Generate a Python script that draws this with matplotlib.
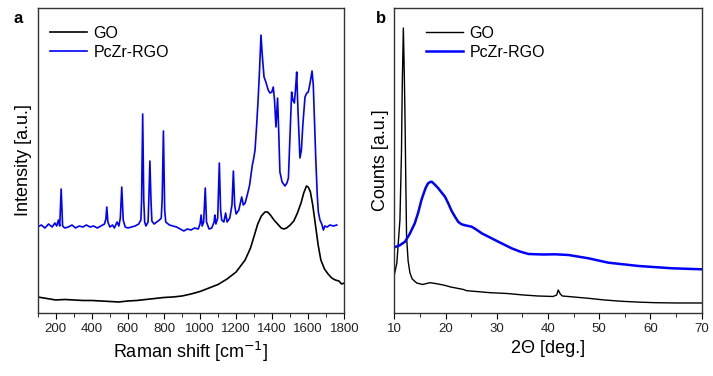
import matplotlib
matplotlib.use("Agg")
import matplotlib.pyplot as plt
from matplotlib.ticker import MultipleLocator

plt.rcParams['font.family'] = ['Liberation Sans', 'DejaVu Sans']

# Raman spectra (panel a), intensity in arbitrary units
raman_go_x = [100, 150, 200, 250, 300, 350, 400, 450, 500, 550, 600, 650, 700, 750, 800, 850,
              900, 950, 1000, 1050, 1100, 1150, 1200, 1250, 1280, 1300, 1320, 1340, 1360, 1375,
              1390, 1410, 1430, 1450, 1465, 1480, 1500, 1520, 1540, 1560, 1575, 1590, 1600, 1612,
              1625, 1640, 1655, 1670, 1690, 1710, 1730, 1750, 1770, 1785, 1800]
raman_go_y = [16, 14.5, 13, 13.5, 13, 12.5, 12.5, 12, 11.5, 11, 12, 12.5, 13.5, 14.5, 15.5, 16,
              17, 19, 21.5, 25, 28.5, 34, 41, 53, 65, 77, 89, 97, 101, 101,
              98, 93, 89, 85, 84, 85, 88, 92, 100, 110, 120, 127, 126, 121,
              108, 88, 68, 53, 44, 39, 35, 33, 32, 29, 30]

raman_pc_x = [100, 120, 140, 160, 180, 195, 205, 215, 222, 230, 238, 250, 270, 290, 310, 330,
              350, 370, 390, 410, 430, 450, 470, 478, 483, 489, 500, 515, 525, 540, 550, 558,
              566, 574, 585, 600, 620, 640, 660, 672, 676, 682, 688, 693, 700, 712, 716, 722,
              728, 733, 745, 760, 775, 785, 790, 797, 804, 810, 830, 850, 870, 890, 910, 930,
              950, 970, 990, 1000, 1006, 1012, 1020, 1029, 1036, 1050, 1065, 1078, 1082, 1088,
              1098, 1107, 1114, 1120, 1132, 1142, 1150, 1165, 1177, 1185, 1192, 1200, 1215,
              1231, 1240, 1250, 1262, 1275, 1290, 1296, 1305, 1314, 1322, 1330, 1338, 1345,
              1355, 1365, 1378, 1388, 1398, 1406, 1413, 1421, 1430, 1436, 1443, 1455, 1471,
              1482, 1490, 1498, 1508, 1515, 1523, 1530, 1536, 1543, 1554, 1562, 1570, 1582,
              1592, 1600, 1606, 1613, 1621, 1628, 1634, 1642, 1650, 1656, 1665, 1675, 1684,
              1692, 1705, 1720, 1740, 1758]
raman_pc_y = [86, 88, 85, 89, 86, 90, 87, 93, 87, 124, 87, 85, 86, 88, 85, 87,
              86, 88, 86, 87, 85, 87, 89, 94, 106, 91, 86, 88, 85, 91, 87, 95,
              126, 93, 86, 85, 86, 87, 89, 93, 113, 199, 113, 91, 87, 91, 113, 152,
              113, 92, 89, 91, 93, 95, 113, 182, 103, 91, 88, 87, 86, 84, 82, 84,
              83, 85, 84, 89, 98, 87, 91, 125, 91, 84, 85, 91, 98, 89,
              95, 150, 103, 93, 91, 100, 91, 95, 108, 142, 108, 99, 103,
              116, 108, 110, 118, 128, 148, 153, 163, 188, 213, 243, 278, 258,
              236, 231, 223, 220, 221, 226, 213, 186, 215, 183, 141, 131, 127,
              130, 135, 173, 221, 213, 210, 225, 241, 203, 155, 163, 188, 216,
              220, 221, 226, 233, 242, 228, 195, 153, 118, 101, 93, 89, 83,
              87, 86, 88, 87, 88]

# XRD patterns (panel b), counts in arbitrary units
xrd_go_x = [10, 10.5, 11.1, 11.4, 11.55, 11.77, 11.95, 12.1, 12.25, 12.4, 12.7, 13.06, 13.5,
            14.37, 15.5, 16.97, 18, 19.57, 21, 22.5, 23.5, 24.1, 26, 28.7, 32, 35.2, 38, 41,
            41.7, 42.0, 42.4, 42.8, 45, 47.9, 51, 54.4, 58, 60.9, 65, 70]
xrd_go_y = [38, 50, 93, 160, 226, 285, 240, 193, 130, 76, 52, 40, 34,
            30, 28.5, 30.3, 29.5, 28, 26, 24.5, 23.5, 22.3, 21.5, 20.3, 19.5, 18, 17, 16.5,
            18, 23, 19, 17, 16, 14.7, 13, 11.7, 10.8, 10.3, 10, 10]

xrd_pc_x = [10, 11, 12.1, 13, 14.0, 14.7, 15.3, 15.9, 16.2, 16.6, 17.0, 17.3, 17.8, 18.6, 19.0,
            19.9, 20.5, 21.2, 21.85, 22.5, 23.15, 24.0, 25.1, 26.0, 27.06, 28.5, 30.3, 32.9,
            34.5, 36.2, 39.0, 41.4, 44.0, 47.9, 51.8, 57.7, 64.2, 70]
xrd_pc_y = [65.7, 67.5, 71.3, 79, 89.7, 101, 113, 122, 126, 129.7, 131, 131.3, 129, 124.7, 122,
            116.3, 110, 102, 96.3, 91, 88.7, 87.5, 86.3, 83.5, 79.7, 76, 71.3, 64.7,
            61.5, 59, 58.5, 58.7, 58, 54.7, 50.3, 47, 44.7, 43.7]

fig = plt.figure(figsize=(7.13, 3.76), dpi=100)
ax1 = fig.add_axes([0.0529, 0.1676, 0.430, 0.811])
ax2 = fig.add_axes([0.553, 0.1676, 0.4311, 0.811])

ax1.plot(raman_go_x, raman_go_y, color='black', lw=1.2, label='GO')
ax1.plot(raman_pc_x, raman_pc_y, color='#0000ff', lw=1.2, label='PcZr-RGO')
ax1.set_xlim(100, 1800)
ax1.set_ylim(0, 305)
ax1.xaxis.set_minor_locator(MultipleLocator(100))
ax1.set_xticks([200, 400, 600, 800, 1000, 1200, 1400, 1600, 1800])
ax1.set_xlabel('Raman shift [cm$^{-1}$]', fontsize=13)
ax1.set_ylabel('Intensity [a.u.]', fontsize=13)

ax2.plot(xrd_go_x, xrd_go_y, color='black', lw=1.0, label='GO')
ax2.plot(xrd_pc_x, xrd_pc_y, color='#0000ff', lw=1.8, label='PcZr-RGO')
ax2.set_xlim(10, 70)
ax2.set_ylim(0, 305)
ax2.xaxis.set_major_locator(MultipleLocator(10))
ax2.xaxis.set_minor_locator(MultipleLocator(5))
ax2.set_xlabel('2\u0398 [deg.]', fontsize=13)
ax2.set_ylabel('Counts [a.u.]', fontsize=13)

for ax in (ax1, ax2):
    ax.set_yticks([])
    ax.tick_params(axis='x', which='major', direction='out', length=4, labelsize=9.5, pad=3,
                   labelcolor='#222222')
    ax.tick_params(axis='x', which='minor', direction='out', length=3)
    for sp in ax.spines.values():
        sp.set_color('#333333')
        sp.set_linewidth(1.0)

ax1.legend(loc='upper left', bbox_to_anchor=(0.0, 0.984), frameon=False, fontsize=11.5,
           handlelength=2.3, handletextpad=0.4, labelspacing=0.25, borderaxespad=0.4)
ax2.legend(loc='upper left', bbox_to_anchor=(0.063, 0.984), frameon=False, fontsize=11.5,
           handlelength=2.3, handletextpad=0.4, labelspacing=0.25, borderaxespad=0.4)

fig.text(0.019, 0.952, 'a', fontsize=12, fontweight='bold', ha='left', va='center')
fig.text(0.527, 0.952, 'b', fontsize=12, fontweight='bold', ha='left', va='center')

fig.savefig('out.png', dpi=100)
